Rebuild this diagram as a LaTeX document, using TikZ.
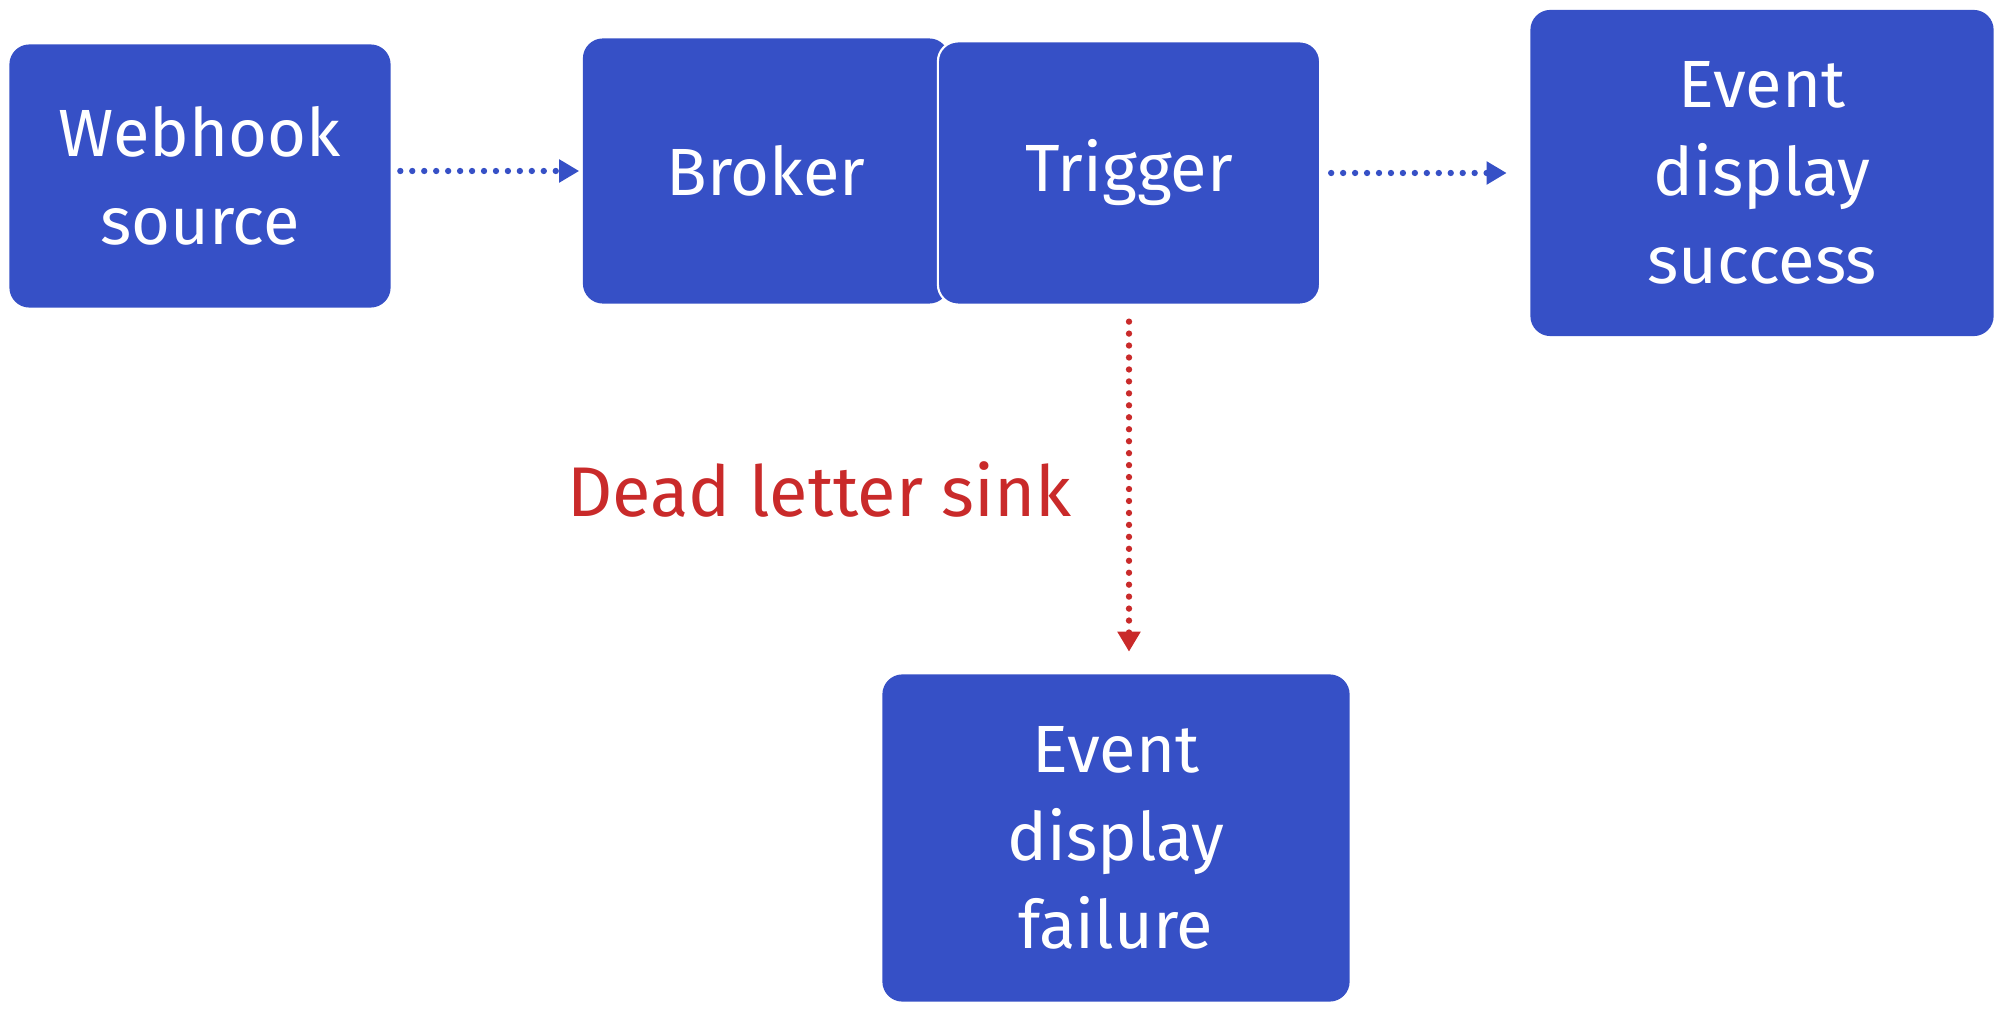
\documentclass[tikz,border=0pt]{standalone}
\usepackage{fontspec}
\setmainfont{Fira Sans}
\usetikzlibrary{arrows.meta}
\definecolor{boxblue}{HTML}{3650C6}
\definecolor{sinkred}{HTML}{C92A2A}

\begin{document}
\begin{tikzpicture}[x=0.01cm, y=-0.01cm,
    box/.style={fill=boxblue, rounded corners=0.2cm, text=white, align=center,
        font=\fontsize{19}{25}\selectfont, inner sep=0pt},
    flow/.style={draw=#1, line width=1.8pt, line cap=round,
        dash pattern=on 0pt off 3.4pt, -{Triangle[length=0.2cm,width=0.22cm]}},
    flow/.default=boxblue]
    \useasboundingbox (0,0) rectangle (2006,1013);
    % boxes
    \node[box, minimum width=3.81cm, minimum height=2.63cm] (webhook) at (200,176) {Webhook\\source};
    \node[box, minimum width=3.66cm, minimum height=2.65cm] (broker) at (766,171) {Broker};
    \node[box, draw=white, line width=0.6pt, minimum width=3.82cm, minimum height=2.63cm] (trigger) at (1129,173) {Trigger};
    \node[box, minimum width=4.63cm, minimum height=3.26cm] (success) at (1762,173) {Event\\display\\success};
    \node[box, minimum width=4.67cm, minimum height=3.27cm] (failure) at (1116,838) {Event\\display\\failure};
    % connectors
    \draw[flow, shorten <=0.09cm, shorten >=0.03cm] (webhook.east |- broker.west) -- (broker.west);
    \draw[flow, shorten <=0.1cm, shorten >=0.23cm] (trigger.east) -- (success.west |- trigger.east);
    \draw[flow=sinkred, shorten <=0.16cm, shorten >=0.22cm] (trigger.south) -- (trigger.south |- failure.north)
        node[midway, left=0.54cm, inner sep=0pt, text=sinkred, font=\fontsize{20}{25}\selectfont] (sink) {Dead letter sink};
\end{tikzpicture}
\end{document}
